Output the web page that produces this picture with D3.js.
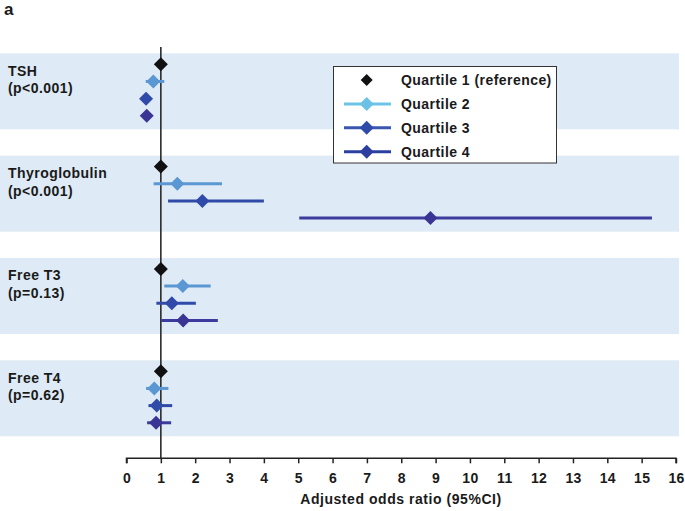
<!DOCTYPE html>
<html><head><meta charset="utf-8">
<script src="https://cdn.jsdelivr.net/npm/d3@7"></script>
<style>body{margin:0;background:#fff}svg{display:block}text{font-family:"Liberation Sans",Arial,sans-serif;font-weight:bold}</style>
</head><body>
<script>
const groups = ["TSH", "Thyroglobulin", "Free T3", "Free T4"];
const pLabels = ["(p<0.001)", "(p<0.001)", "(p=0.13)", "(p=0.62)"];
const quartiles = ["Quartile 1 (reference)", "Quartile 2", "Quartile 3", "Quartile 4"];
// odds ratio estimates per group, per quartile
const estimate = [
  [1, 0.78, 0.57, 0.59],
  [1, 1.48, 2.21, 8.85],
  [1, 1.64, 1.32, 1.65],
  [1, 0.81, 0.88, 0.86]
];
const lower = [
  [1, 0.56, 0.50, 0.50],
  [1, 0.79, 1.21, 5.03],
  [1, 1.10, 0.87, 1.01],
  [1, 0.57, 0.64, 0.60]
];
const upper = [
  [1, 1.10, 0.66, 0.68],
  [1, 2.78, 4.00, 15.30],
  [1, 2.45, 2.02, 2.66],
  [1, 1.22, 1.33, 1.30]
];
const xTicks = d3.range(0, 17);

const W = 685, H = 511;
const svg = d3.select("body").append("svg").attr("width", W).attr("height", H);

const x = d3.scaleLinear().domain([0, 16]).range([126.5, 676]);
const yGroup = d3.scaleBand().domain(groups).range([53.3, 436.3]).paddingInner(0.257).paddingOuter(0);
const yQ = d3.scalePoint().domain(quartiles).range([11, 62.5]);

const lineColors = ["#111111", "#5b97d2", "#2f4aa8", "#3c3c9e"];
const dotColors = ["#111111", "#5b97d2", "#2f4aa8", "#3a3494"];

// label "a"
svg.append("text").attr("x", 4).attr("y", 15).attr("font-size", 17).attr("fill", "#1a1a1a").text("a");

// bands
svg.selectAll("rect.band").data(groups).join("rect")
  .attr("x", 0).attr("width", 679)
  .attr("y", d => yGroup(d)).attr("height", yGroup.bandwidth())
  .attr("fill", "#deeaf5");

// group labels
groups.forEach((g, i) => {
  const y0 = yGroup(g);
  svg.append("text").attr("x", 8).attr("y", y0 + 22.5).attr("font-size", 14).attr("letter-spacing", 0.45).attr("fill", "#1a1a1a").text(g);
  svg.append("text").attr("x", 8).attr("y", y0 + 40).attr("font-size", 14).attr("letter-spacing", 0.45).attr("fill", "#1a1a1a").text(pLabels[i]);
});

// reference line
svg.append("line").attr("x1", x(1)).attr("x2", x(1)).attr("y1", 47).attr("y2", 458)
  .attr("stroke", "#2a2a2a").attr("stroke-width", 1.6);

// axis
const axis = d3.axisBottom(x).tickValues(xTicks).tickSize(5).tickPadding(10).tickFormat(d3.format("d"));
const ax = svg.append("g").attr("transform", "translate(0,458.3)").call(axis);
ax.select(".domain").attr("stroke", "#222").attr("stroke-width", 1.5).attr("d", `M${x(0)},5V0H${x(16)}V5`);
ax.selectAll(".tick line").attr("stroke", "#222").attr("stroke-width", 1.5);
ax.selectAll(".tick text").attr("font-size", 14).attr("fill", "#1a1a1a").attr("letter-spacing", 0.3)
  .style("font-family", "'Liberation Sans',Arial,sans-serif").style("font-weight", "bold");

svg.append("text").attr("x", 401).attr("y", 504).attr("text-anchor", "middle").attr("font-size", 14).attr("letter-spacing", 0.55).attr("fill", "#1a1a1a")
  .text("Adjusted odds ratio (95%CI)");

function diamondPath(w, h) {
  return `M0,${-h/2}L${w/2},0L0,${h/2}L${-w/2},0Z`;
}

// points
groups.forEach((g, gi) => {
  quartiles.forEach((q, qi) => {
    const cy = yGroup(g) + yQ(q);
    if (qi > 0) {
      svg.append("line").attr("x1", x(lower[gi][qi])).attr("x2", x(upper[gi][qi]))
        .attr("y1", cy).attr("y2", cy).attr("stroke", lineColors[qi]).attr("stroke-width", 3);
    }
    svg.append("path").attr("d", diamondPath(14, 14))
      .attr("transform", `translate(${x(estimate[gi][qi])},${cy})`)
      .attr("fill", dotColors[qi]);
  });
});

// legend
const legendLine = ["none", "#6cc4e6", "#3a56b0", "#2a40a0"];
const legendDot = ["#111111", "#6cc2e4", "#2f4aa8", "#2c3ea0"];
const lg = svg.append("g");
lg.append("rect").attr("x", 333.5).attr("y", 66.5).attr("width", 223).attr("height", 96.5)
  .attr("fill", "#fff").attr("stroke", "#333").attr("stroke-width", 1);
quartiles.forEach((q, i) => {
  const cy = 80 + i * 23.9;
  if (i > 0) lg.append("line").attr("x1", 344).attr("x2", 391).attr("y1", cy).attr("y2", cy)
    .attr("stroke", legendLine[i]).attr("stroke-width", 3);
  lg.append("path").attr("d", diamondPath(i === 0 ? 12 : 14, i === 0 ? 12 : 14))
    .attr("transform", `translate(366.7,${cy})`).attr("fill", legendDot[i]);
  lg.append("text").attr("x", 401).attr("y", cy + 5).attr("font-size", 14).attr("letter-spacing", 0.45).attr("fill", "#1a1a1a").text(q);
});
</script>
</body></html>
